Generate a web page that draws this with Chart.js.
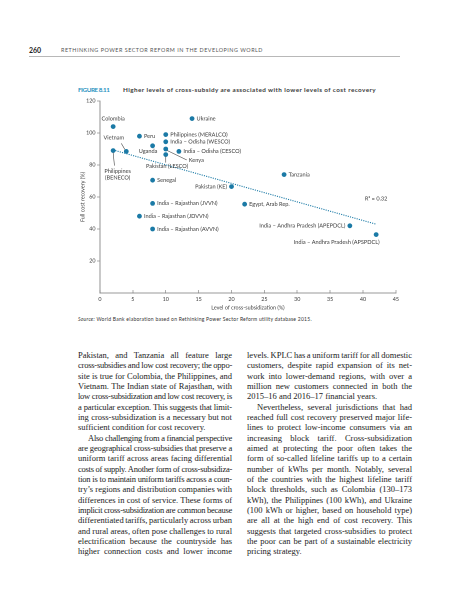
<!DOCTYPE html>
<html>
<head>
<meta charset="utf-8">
<script src="https://cdn.jsdelivr.net/npm/chart.js@4.4.1/dist/chart.umd.min.js"></script>
<style>
  body { margin: 0; width: 457px; height: 600px; background: #fff; position: relative; overflow: hidden; font-family: Lato, sans-serif; }
  .abs { position: absolute; white-space: nowrap; }
  #pageno { left: 29px; top: 46px; font-size: 7px; font-weight: 700; color: #222; }
  #running { left: 61px; top: 47px; font-size: 5.4px; color: #555; }
  #rule { position: absolute; left: 29px; top: 56px; width: 371px; height: 0; border-top: 1px solid #b8b8b8; }
  #fignum { left: 78px; top: 85.5px; font-size: 6.3px; font-weight: 700; color: #2b93bf; }
  #figtitle { left: 123px; top: 85.5px; font-size: 6.3px; font-weight: 700; color: #3a3a3a; }
  #source { left: 78px; top: 316px; font-size: 5px; color: #333; }
  #chart { position: absolute; left: 60px; top: 95px; }
  .col { position: absolute; top: 350px; font-family: "Liberation Serif", serif; font-size: 8.5px; line-height: 10.33px; color: #222; }
  .ln { white-space: nowrap; }
</style>
</head>
<body>
<div class="abs" id="pageno">260</div>
<div class="abs" id="running">RETHINKING POWER SECTOR REFORM IN THE DEVELOPING WORLD</div>
<div id="rule"></div>
<div class="abs" id="fignum">FIGURE 8.11</div>
<div class="abs" id="figtitle">Higher levels of cross-subsidy are associated with lower levels of cost recovery</div>
<canvas id="chart" width="345" height="218" style="width:345px;height:218px"></canvas>
<div class="abs" id="source"><i>Source:</i> World Bank elaboration based on Rethinking Power Sector Reform utility database 2015.</div>
<div class="col" id="left" style="left:78px;width:154px"></div>
<div class="col" id="right" style="left:247px;width:165px"></div>

<script>
// utilities
const names = [
  'Colombia', 'Ukraine', 'Peru', 'Philippines (MERALCO)', 'India – Odisha (WESCO)',
  'Uganda', 'Vietnam', 'Philippines (BENECO)', 'India – Odisha (CESCO)', 'Kenya',
  'Pakistan (LESCO)', 'Senegal', 'Pakistan (KE)', 'Tanzania', 'India – Rajasthan (JVVN)',
  'Egypt, Arab Rep.', 'India – Rajasthan (JDVVN)', 'India – Rajasthan (AVVN)',
  'India – Andhra Pradesh (APEPDCL)', 'India – Andhra Pradesh (APSPDCL)'
];
const subsidy = [2, 14, 6, 10, 10, 8, 4, 2, 12, 10, 10, 8, 20, 28, 8, 22, 6, 8, 38, 42];
const recovery = [104, 109, 98, 99, 94.5, 92, 88.5, 89, 88.5, 90, 86.5, 70.5, 66.5, 74, 56, 55.5, 48, 40, 42, 36.5];

// fitted line as drawn (end points)
const trendX = [2, 42];
const trendY = [89.4, 43];
const rsqText = 'R² = 0.32';
const rsqAt = [42, 59];

const xTicks = [0, 5, 10, 15, 20, 25, 30, 35, 40, 45];
const yTicks = [20, 40, 60, 80, 100, 120];

const DOT = '#1b7aa6';
const INK = '#3c3c3c';
const AXIS = '#777';
const FONT = 'Lato';

// where each label sits relative to its dot (pixels)
const place = {
  'Colombia': { dx: 0, dy: -8, align: 'center' },
  'Uganda': { dx: -4.5, dy: 5.5, align: 'center' },
  'Vietnam': { dx: -12.5, dy: -13.5, align: 'center', leader: [-5, -8, -1.5, -2] },
  'Philippines (BENECO)': { dx: 4.5, dy: 20.5, align: 'center', lines: ['Philippines', '(BENECO)'], leader: [0, 2, 1.3, 15] },
  'Kenya': { dx: 23, dy: 11, align: 'left', leader: [1.5, 1.5, 21, 11] },
  'Pakistan (LESCO)': { dx: 1.3, dy: 11.4, align: 'center', leader: [0, 2, 0, 8] },
  'Pakistan (KE)': { dx: -4.5, dy: 0, align: 'right' },
  'India – Andhra Pradesh (APEPDCL)': { dx: -4.5, dy: 0, align: 'right' },
  'India – Andhra Pradesh (APSPDCL)': { dx: 3.5, dy: 7.5, align: 'right' }
};

const pointLabels = {
  id: 'pointLabels',
  afterDatasetsDraw(chart) {
    const { ctx } = chart;
    const meta = chart.getDatasetMeta(0);
    ctx.save();
    ctx.font = '5.6px ' + FONT;
    ctx.fillStyle = INK;
    ctx.strokeStyle = '#444';
    ctx.lineWidth = 0.6;
    ctx.textBaseline = 'middle';
    meta.data.forEach((pt, i) => {
      const p = place[names[i]] || {};
      const dx = p.dx ?? 4.5;
      const dy = p.dy ?? 0;
      ctx.textAlign = p.align || 'left';
      (p.lines || [names[i]]).forEach((t, k) => ctx.fillText(t, pt.x + dx, pt.y + dy + k * 6.6));
      if (p.leader) {
        const l = p.leader;
        ctx.beginPath();
        ctx.moveTo(pt.x + l[0], pt.y + l[1]);
        ctx.lineTo(pt.x + l[2], pt.y + l[3]);
        ctx.stroke();
      }
    });
    ctx.textAlign = 'center';
    ctx.fillText(rsqText, chart.scales.x.getPixelForValue(rsqAt[0]), chart.scales.y.getPixelForValue(rsqAt[1]));
    ctx.restore();
  }
};

new Chart(document.getElementById('chart'), {
  type: 'scatter',
  data: {
    datasets: [
      {
        label: 'Utilities',
        data: names.map((n, i) => ({ x: subsidy[i], y: recovery[i] })),
        backgroundColor: DOT,
        borderWidth: 0,
        pointRadius: 2.4,
      },
      {
        type: 'line',
        label: 'Trend',
        data: trendX.map((x, i) => ({ x: x, y: trendY[i] })),
        borderColor: DOT,
        borderWidth: 1.1,
        borderDash: [1.1, 1.2],
        pointRadius: 0,
        fill: false,
      },
    ],
  },
  options: {
    responsive: false,
    animation: false,
    devicePixelRatio: 2,
    layout: { padding: { top: 6, right: 7.7, bottom: 0, left: 0 } },
    plugins: { legend: { display: false }, tooltip: { enabled: false } },
    scales: {
      x: {
        type: 'linear',
        min: 0,
        max: 45,
        afterBuildTicks: (s) => { s.ticks = xTicks.map((v) => ({ value: v })); },
        afterFit: (s) => { s.height = 20; },
        ticks: { font: { family: FONT, size: 5.4 }, color: INK, padding: 6, maxRotation: 0 },
        grid: { drawOnChartArea: false, tickLength: -3, color: AXIS, lineWidth: 0.6 },
        border: { color: AXIS, width: 0.8 },
        title: { display: true, text: 'Level of cross-subsidization (%)', font: { family: FONT, size: 5.4 }, color: INK, padding: { top: 0, bottom: 2 } },
      },
      y: {
        type: 'linear',
        min: 0,
        max: 120,
        afterBuildTicks: (s) => { s.ticks = yTicks.map((v) => ({ value: v })); },
        afterFit: (s) => { s.width = 40; },
        ticks: { font: { family: FONT, size: 5.4 }, color: INK, padding: 1.5 },
        grid: { drawOnChartArea: false, tickLength: 3, color: AXIS, lineWidth: 0.6 },
        border: { color: AXIS, width: 0.8 },
        title: { display: true, text: 'Full cost recovery (%)', font: { family: FONT, size: 5.4 }, color: INK, padding: { top: 19.5, bottom: 0 } },
      },
    },
  },
  plugins: [pointLabels],
});

// running text, line by line as set on the page
const leftLines = [
  'Pakistan, and Tanzania all feature large',
  'cross-subsidies and low cost recovery; the oppo-',
  'site is true for Colombia, the Philippines, and',
  'Vietnam. The Indian state of Rajasthan, with',
  'low cross-subsidization and low cost recovery, is',
  'a particular exception. This suggests that limit-',
  'ing cross-subsidization is a necessary but not',
  'sufficient condition for cost recovery.',
  'Also challenging from a financial perspective',
  'are geographical cross-subsidies that preserve a',
  'uniform tariff across areas facing differential',
  'costs of supply. Another form of cross-subsidiza-',
  'tion is to maintain uniform tariffs across a coun-',
  'try’s regions and distribution companies with',
  'differences in cost of service. These forms of',
  'implicit cross-subsidization are common because',
  'differentiated tariffs, particularly across urban',
  'and rural areas, often pose challenges to rural',
  'electrification because the countryside has',
  'higher connection costs and lower income',
];
const rightLines = [
  'levels. KPLC has a uniform tariff for all domestic',
  'customers, despite rapid expansion of its net-',
  'work into lower-demand regions, with over a',
  'million new customers connected in both the',
  '2015–16 and 2016–17 financial years.',
  'Nevertheless, several jurisdictions that had',
  'reached full cost recovery preserved major life-',
  'lines to protect low-income consumers via an',
  'increasing block tariff. Cross-subsidization',
  'aimed at protecting the poor often takes the',
  'form of so-called lifeline tariffs up to a certain',
  'number of kWhs per month. Notably, several',
  'of the countries with the highest lifeline tariff',
  'block thresholds, such as Colombia (130–173',
  'kWh), the Philippines (100 kWh), and Ukraine',
  '(100 kWh or higher, based on household type)',
  'are all at the high end of cost recovery. This',
  'suggests that targeted cross-subsidies to protect',
  'the poor can be part of a sustainable electricity',
  'pricing strategy.',
];

function setLines(id, lines, indents, ends, width) {
  const el = document.getElementById(id);
  lines.forEach((t, i) => {
    const d = document.createElement('div');
    d.className = 'ln';
    const s = document.createElement('span');
    s.textContent = t;
    d.appendChild(s);
    const ind = indents.includes(i) ? 10 : 0;
    d.style.paddingLeft = ind + 'px';
    el.appendChild(d);
    const w = s.getBoundingClientRect().width;
    const gaps = t.split(' ').length - 1;
    const room = width - ind - w;
    if (ends.includes(i)) {
      if (room < 0) s.style.letterSpacing = (room / t.length) + 'px';
      return;
    }
    if (gaps > 0 && room / gaps > -0.8) {
      s.style.wordSpacing = (room / gaps) + 'px';
    } else {
      s.style.letterSpacing = (room / t.length) + 'px';
    }
  });
}
setLines('left', leftLines, [8], [7], 154);
setLines('right', rightLines, [5], [4, 19], 165);

// single-line captions stretched to the width they take in the print
function fit(id, width) {
  const el = document.getElementById(id);
  const w = el.getBoundingClientRect().width;
  const n = el.textContent.length;
  el.style.letterSpacing = ((width - w) / n) + 'px';
}
fit('running', 202);
fit('fignum', 31.5);
fit('figtitle', 253);
fit('source', 234);
</script>
</body>
</html>
